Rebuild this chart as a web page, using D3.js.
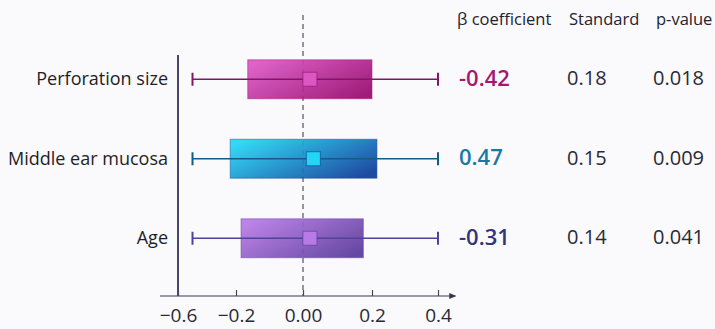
<!DOCTYPE html>
<html>
<head>
<meta charset="utf-8">
<script src="https://cdn.jsdelivr.net/npm/d3@7.9.0/dist/d3.min.js"></script>
<style>
  html, body { margin: 0; padding: 0; background: #faf9fc; }
  svg { display: block; font-family: "Open Sans", "Noto Sans", sans-serif; }
</style>
</head>
<body>
<div id="chart"></div>
<script>
const factors = ["Perforation size", "Middle ear mucosa", "Age"];
const boxLow = [-0.165, -0.24, -0.185];
const boxHigh = [0.2, 0.215, 0.175];
const whiskerLow = [-0.5, -0.5, -0.5];
const whiskerHigh = [0.4, 0.4, 0.4];
const estimates = [0.02, 0.03, 0.02];
const betaValues = ["-0.42", "0.47", "-0.31"];
const standardValues = ["0.18", "0.15", "0.14"];
const pValues = ["0.018", "0.009", "0.041"];
const tickValues = [-0.6, -0.2, 0, 0.2, 0.4];
const tickLabels = ["\u22120.6", "\u22120.2", "0.00", "0.2", "0.4"];

const colorLight = ["#dc56c4", "#22d6f4", "#b77ae6"];
const colorDark = ["#980a70", "#0c3c9a", "#5a3a9c"];
const lineColor = ["#7e1866", "#145a86", "#54409a"];
const betaColor = ["#a3196f", "#1b78a6", "#35347a"];

const width = 715, height = 329;

const svg = d3.select("#chart").append("svg")
  .attr("width", width)
  .attr("height", height);

// the axis in the picture is not evenly spaced, so piecewise domain
const x = d3.scaleLinear()
  .domain(tickValues)
  .range([178, 236, 303, 372, 438]);

const y = d3.scaleBand()
  .domain(factors)
  .range([39.5, 278])
  .paddingInner(0.51)
  .paddingOuter(0.255);

const defs = svg.append("defs");
factors.forEach((f, i) => {
  const g = defs.append("linearGradient")
    .attr("id", "grad" + i)
    .attr("x1", "0%").attr("y1", "20%")
    .attr("x2", "100%").attr("y2", "80%");
  g.append("stop").attr("offset", "0%").attr("stop-color", colorLight[i]);
  g.append("stop").attr("offset", "100%").attr("stop-color", colorDark[i]);
});
defs.append("marker")
  .attr("id", "arrow")
  .attr("viewBox", "0 0 10 10")
  .attr("refX", 8).attr("refY", 5)
  .attr("markerWidth", 6).attr("markerHeight", 6)
  .attr("orient", "auto")
  .append("path")
  .attr("d", "M0,1 L10,5 L0,9 Z")
  .attr("fill", "#3a3650");

const axisY = 296;

// x axis
const xAxis = svg.append("g")
  .attr("transform", `translate(0,${axisY})`)
  .call(d3.axisBottom(x)
    .tickValues(tickValues)
    .tickFormat((d, i) => tickLabels[i])
    .tickSize(-6)
    .tickPadding(13));
xAxis.select(".domain").remove();
xAxis.selectAll(".tick line").attr("stroke", "#4a4660").attr("stroke-width", 1.2);
xAxis.selectAll(".tick text")
  .attr("fill", "#2a2a35")
  .attr("font-size", 19)
  .attr("font-family", "Open Sans, sans-serif");

svg.append("line")
  .attr("x1", 160).attr("x2", 455)
  .attr("y1", axisY).attr("y2", axisY)
  .attr("stroke", "#3a3650")
  .attr("stroke-width", 1.2)
  .attr("marker-end", "url(#arrow)");

// y axis line
svg.append("line")
  .attr("x1", x(-0.6)).attr("x2", x(-0.6))
  .attr("y1", 55).attr("y2", axisY)
  .attr("stroke", "#4a4466")
  .attr("stroke-width", 2);

// zero reference line
svg.append("line")
  .attr("x1", x(0)).attr("x2", x(0))
  .attr("y1", 15).attr("y2", axisY)
  .attr("stroke", "#555060")
  .attr("stroke-width", 1.2)
  .attr("stroke-dasharray", "5,4");

// factor labels
svg.append("g").selectAll("text")
  .data(factors)
  .join("text")
  .attr("x", 168)
  .attr("y", d => y(d) + y.bandwidth() / 2)
  .attr("dy", "0.33em")
  .attr("text-anchor", "end")
  .attr("font-size", 18)
  .attr("fill", "#1e1e28")
  .text(d => d);

const rows = svg.append("g").selectAll("g")
  .data(factors)
  .join("g");

rows.append("rect")
  .attr("x", (d, i) => x(boxLow[i]))
  .attr("y", d => y(d))
  .attr("width", (d, i) => x(boxHigh[i]) - x(boxLow[i]))
  .attr("height", y.bandwidth())
  .attr("fill", (d, i) => `url(#grad${i})`)
  .attr("stroke", (d, i) => colorDark[i])
  .attr("stroke-opacity", 0.5)
  .attr("opacity", 0.92);

rows.append("line")
  .attr("x1", (d, i) => x(whiskerLow[i]))
  .attr("x2", (d, i) => x(whiskerHigh[i]))
  .attr("y1", d => y(d) + y.bandwidth() / 2)
  .attr("y2", d => y(d) + y.bandwidth() / 2)
  .attr("stroke", (d, i) => lineColor[i])
  .attr("stroke-width", 1.6);

[whiskerLow, whiskerHigh].forEach(arr => {
  rows.append("line")
    .attr("x1", (d, i) => x(arr[i]))
    .attr("x2", (d, i) => x(arr[i]))
    .attr("y1", d => y(d) + y.bandwidth() / 2 - 6.5)
    .attr("y2", d => y(d) + y.bandwidth() / 2 + 6.5)
    .attr("stroke", (d, i) => lineColor[i])
    .attr("stroke-width", 2);
});

rows.append("rect")
  .attr("x", (d, i) => x(estimates[i]) - 7)
  .attr("y", d => y(d) + y.bandwidth() / 2 - 7)
  .attr("width", 14)
  .attr("height", 14)
  .attr("fill", (d, i) => colorLight[i])
  .attr("stroke", (d, i) => colorDark[i])
  .attr("stroke-opacity", 0.6);

// table
const header = svg.append("g").attr("font-size", 16.5).attr("fill", "#222230");
header.append("text").attr("x", 457).attr("y", 25).text("\u03b2 coefficient");
header.append("text").attr("x", 569).attr("y", 25).text("Standard");
header.append("text").attr("x", 656).attr("y", 25).text("p-value");

const table = svg.append("g").selectAll("g")
  .data(factors)
  .join("g")
  .attr("transform", d => `translate(0,${y(d) + y.bandwidth() / 2})`);

table.append("text")
  .attr("x", 459)
  .attr("dy", "0.3em")
  .attr("font-size", 22)
  .attr("font-weight", 600)
  .attr("fill", (d, i) => betaColor[i])
  .text((d, i) => betaValues[i]);

table.append("text")
  .attr("x", 567)
  .attr("dy", "0.3em")
  .attr("font-size", 20)
  .attr("fill", "#2a2a35")
  .text((d, i) => standardValues[i]);

table.append("text")
  .attr("x", 653)
  .attr("dy", "0.3em")
  .attr("font-size", 20)
  .attr("fill", "#2a2a35")
  .text((d, i) => pValues[i]);
</script>
</body>
</html>
